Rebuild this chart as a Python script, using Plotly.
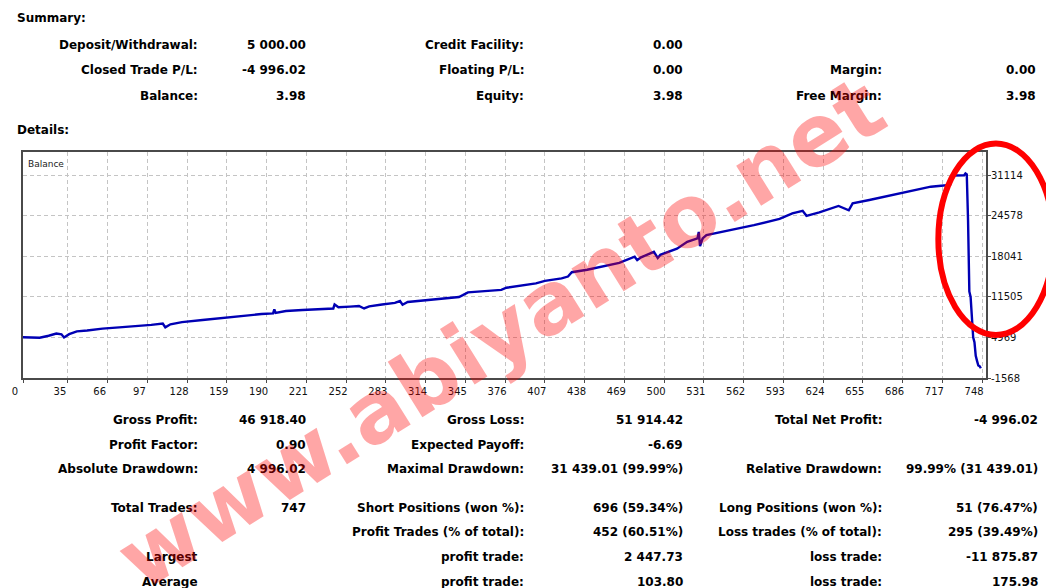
import plotly.graph_objects as go

# ---------------- data ----------------
trade_no = [0, 8, 13, 20, 26, 30, 32, 36, 42, 50, 62, 75, 93, 100, 109, 111, 115, 124, 140, 155,
            170, 186, 195, 196, 197, 205, 218, 235, 242, 243, 246, 255, 262, 266, 270, 280, 290, 294,
            296, 300, 311, 325, 340, 343, 347, 360, 373, 377, 387, 400, 407, 420, 425, 428, 440, 451,
            465, 477, 479, 482, 492, 495, 497, 510, 518, 526, 527, 528, 530, 533, 544, 559, 570, 590,
            600, 608, 611, 621, 636, 644, 647, 660, 673, 685, 698, 708, 716, 723, 725, 734, 735, 736,
            737, 738, 739, 740, 741, 742, 743, 744, 745, 746, 747]
balance = [5000, 5020, 4920, 5250, 5600, 5480, 4980, 5500, 5950, 6100, 6400, 6600, 6850, 7000, 7230,
           6600, 7100, 7450, 7800, 8150, 8450, 8750, 8850, 9500, 8950, 9250, 9400, 9600, 9650, 10300,
           9850, 9950, 10050, 9650, 10000, 10300, 10550, 10850, 10250, 10700, 10950, 11250, 11500,
           11800, 12250, 12450, 12650, 13000, 13300, 13700, 14100, 14500, 14800, 15500, 15900, 16350,
           17000, 18000, 17450, 17900, 18800, 17800, 18300, 19300, 20400, 20950, 22000, 19700, 20950,
           21500, 21950, 22600, 23100, 24100, 25000, 25400, 24600, 25150, 26200, 25500, 26600, 27150,
           27700, 28250, 28800, 29300, 29450, 29600, 31100, 31150, 31443, 31300, 23900, 12400, 11500,
           7000, 5000, 4200, 2000, 1200, 450, 350, 3.98]

x_ticks = [0, 35, 66, 97, 128, 159, 190, 221, 252, 283, 314, 345, 376, 407, 438, 469, 500, 531,
           562, 593, 624, 655, 686, 717, 748]
y_ticks = [31114, 24578, 18041, 11505, 4969, -1568]

summary_rows = [
    ["Deposit/Withdrawal:", "5 000.00", "Credit Facility:", "0.00", "", ""],
    ["Closed Trade P/L:", "-4 996.02", "Floating P/L:", "0.00", "Margin:", "0.00"],
    ["Balance:", "3.98", "Equity:", "3.98", "Free Margin:", "3.98"],
]
details_rows = [
    ["Gross Profit:", "46 918.40", "Gross Loss:", "51 914.42", "Total Net Profit:", "-4 996.02"],
    ["Profit Factor:", "0.90", "Expected Payoff:", "-6.69", "", ""],
    ["Absolute Drawdown:", "4 996.02", "Maximal Drawdown:", "31 439.01 (99.99%)",
     "Relative Drawdown:", "99.99% (31 439.01)"],
    ["Total Trades:", "747", "Short Positions (won %):", "696 (59.34%)",
     "Long Positions (won %):", "51 (76.47%)"],
    ["", "", "Profit Trades (% of total):", "452 (60.51%)",
     "Loss trades (% of total):", "295 (39.49%)"],
    ["Largest", "", "profit trade:", "2 447.73", "loss trade:", "-11 875.87"],
    ["Average", "", "profit trade:", "103.80", "loss trade:", "175.98"],
]

# ---------------- layout helpers ----------------
WIDTH, HEIGHT = 1046, 588
L, R, T, B = 16, 60, 152, 210
PW, PH = WIDTH - L - R, HEIGHT - T - B


def px(x):
    return (x - L) / PW


def py(y):
    return 1 - (y - T) / PH


FONT = "DejaVu Sans"
annotations = []


def txt(x, y, s, size=12, anchor="right", bold=True, color="#000000"):
    if not s:
        return
    annotations.append(dict(
        x=px(x), y=py(y), xref="paper", yref="paper", showarrow=False,
        text=f"<b>{s}</b>" if bold else s, xanchor=anchor, yanchor="middle",
        font=dict(family=FONT, size=size, color=color)))


txt(8, 18, "Summary:", anchor="left")
txt(8, 130, "Details:", anchor="left")

sum_y = [45, 70, 96]
sum_x = [194, 303, 523, 683, 883, 1038]
for row, yy in zip(summary_rows, sum_y):
    for s, xx in zip(row, sum_x):
        txt(xx, yy, s)

det_y = [420, 445, 469, 508, 532, 557, 582]
det_x = [194, 303, 523, 683, 883, 1040]
for row, yy in zip(details_rows, det_y):
    for s, xx in zip(row, det_x):
        txt(xx, yy, s)

txt(19, 164, "Balance", size=9, anchor="left", bold=False, color="#222222")

# watermark
annotations.append(dict(
    x=px(497), y=py(333), xref="paper", yref="paper", showarrow=False,
    text="<b>www.abiyanto.net</b>", textangle=-32, xanchor="center", yanchor="middle",
    font=dict(family=FONT, size=86, color="rgba(255,0,0,0.35)")))

# ---------------- figure ----------------
fig = go.Figure()
fig.add_trace(go.Scatter(x=trade_no, y=balance, mode="lines",
                         line=dict(color="#0000b4", width=2.4), hoverinfo="skip"))

axis_common = dict(
    showgrid=True, gridcolor="#c4c4c4", griddash="4px,3px", gridwidth=1,
    showline=True, mirror=True, linecolor="#4a4a4a", linewidth=2,
    ticks="outside", ticklen=3, tickcolor="#4a4a4a",
    tickfont=dict(family=FONT, size=10, color="#111111"), zeroline=False,
)

fig.update_layout(
    width=WIDTH, height=HEIGHT, margin=dict(l=L, r=R, t=T, b=B),
    paper_bgcolor="white", plot_bgcolor="white", showlegend=False,
    xaxis=dict(range=[0, 751], tickvals=x_ticks, ticktext=[str(v) for v in x_ticks],
               ticklabelshift=-8, **axis_common),
    yaxis=dict(range=[-1568, 34900], side="right", tickvals=y_ticks,
               ticktext=[str(v) for v in y_ticks], ticklabelstandoff=-2, **axis_common),
    annotations=annotations,
    shapes=[dict(type="circle", xref="paper", yref="paper",
                 x0=px(938), x1=px(1054), y0=py(335), y1=py(143.5),
                 line=dict(color="#ff0000", width=6), layer="above")],
)

fig.write_html(
    "out.html",
    config={"displayModeBar": False},
    post_script="document.body.style.margin='0';document.body.style.overflow='hidden';",
)
